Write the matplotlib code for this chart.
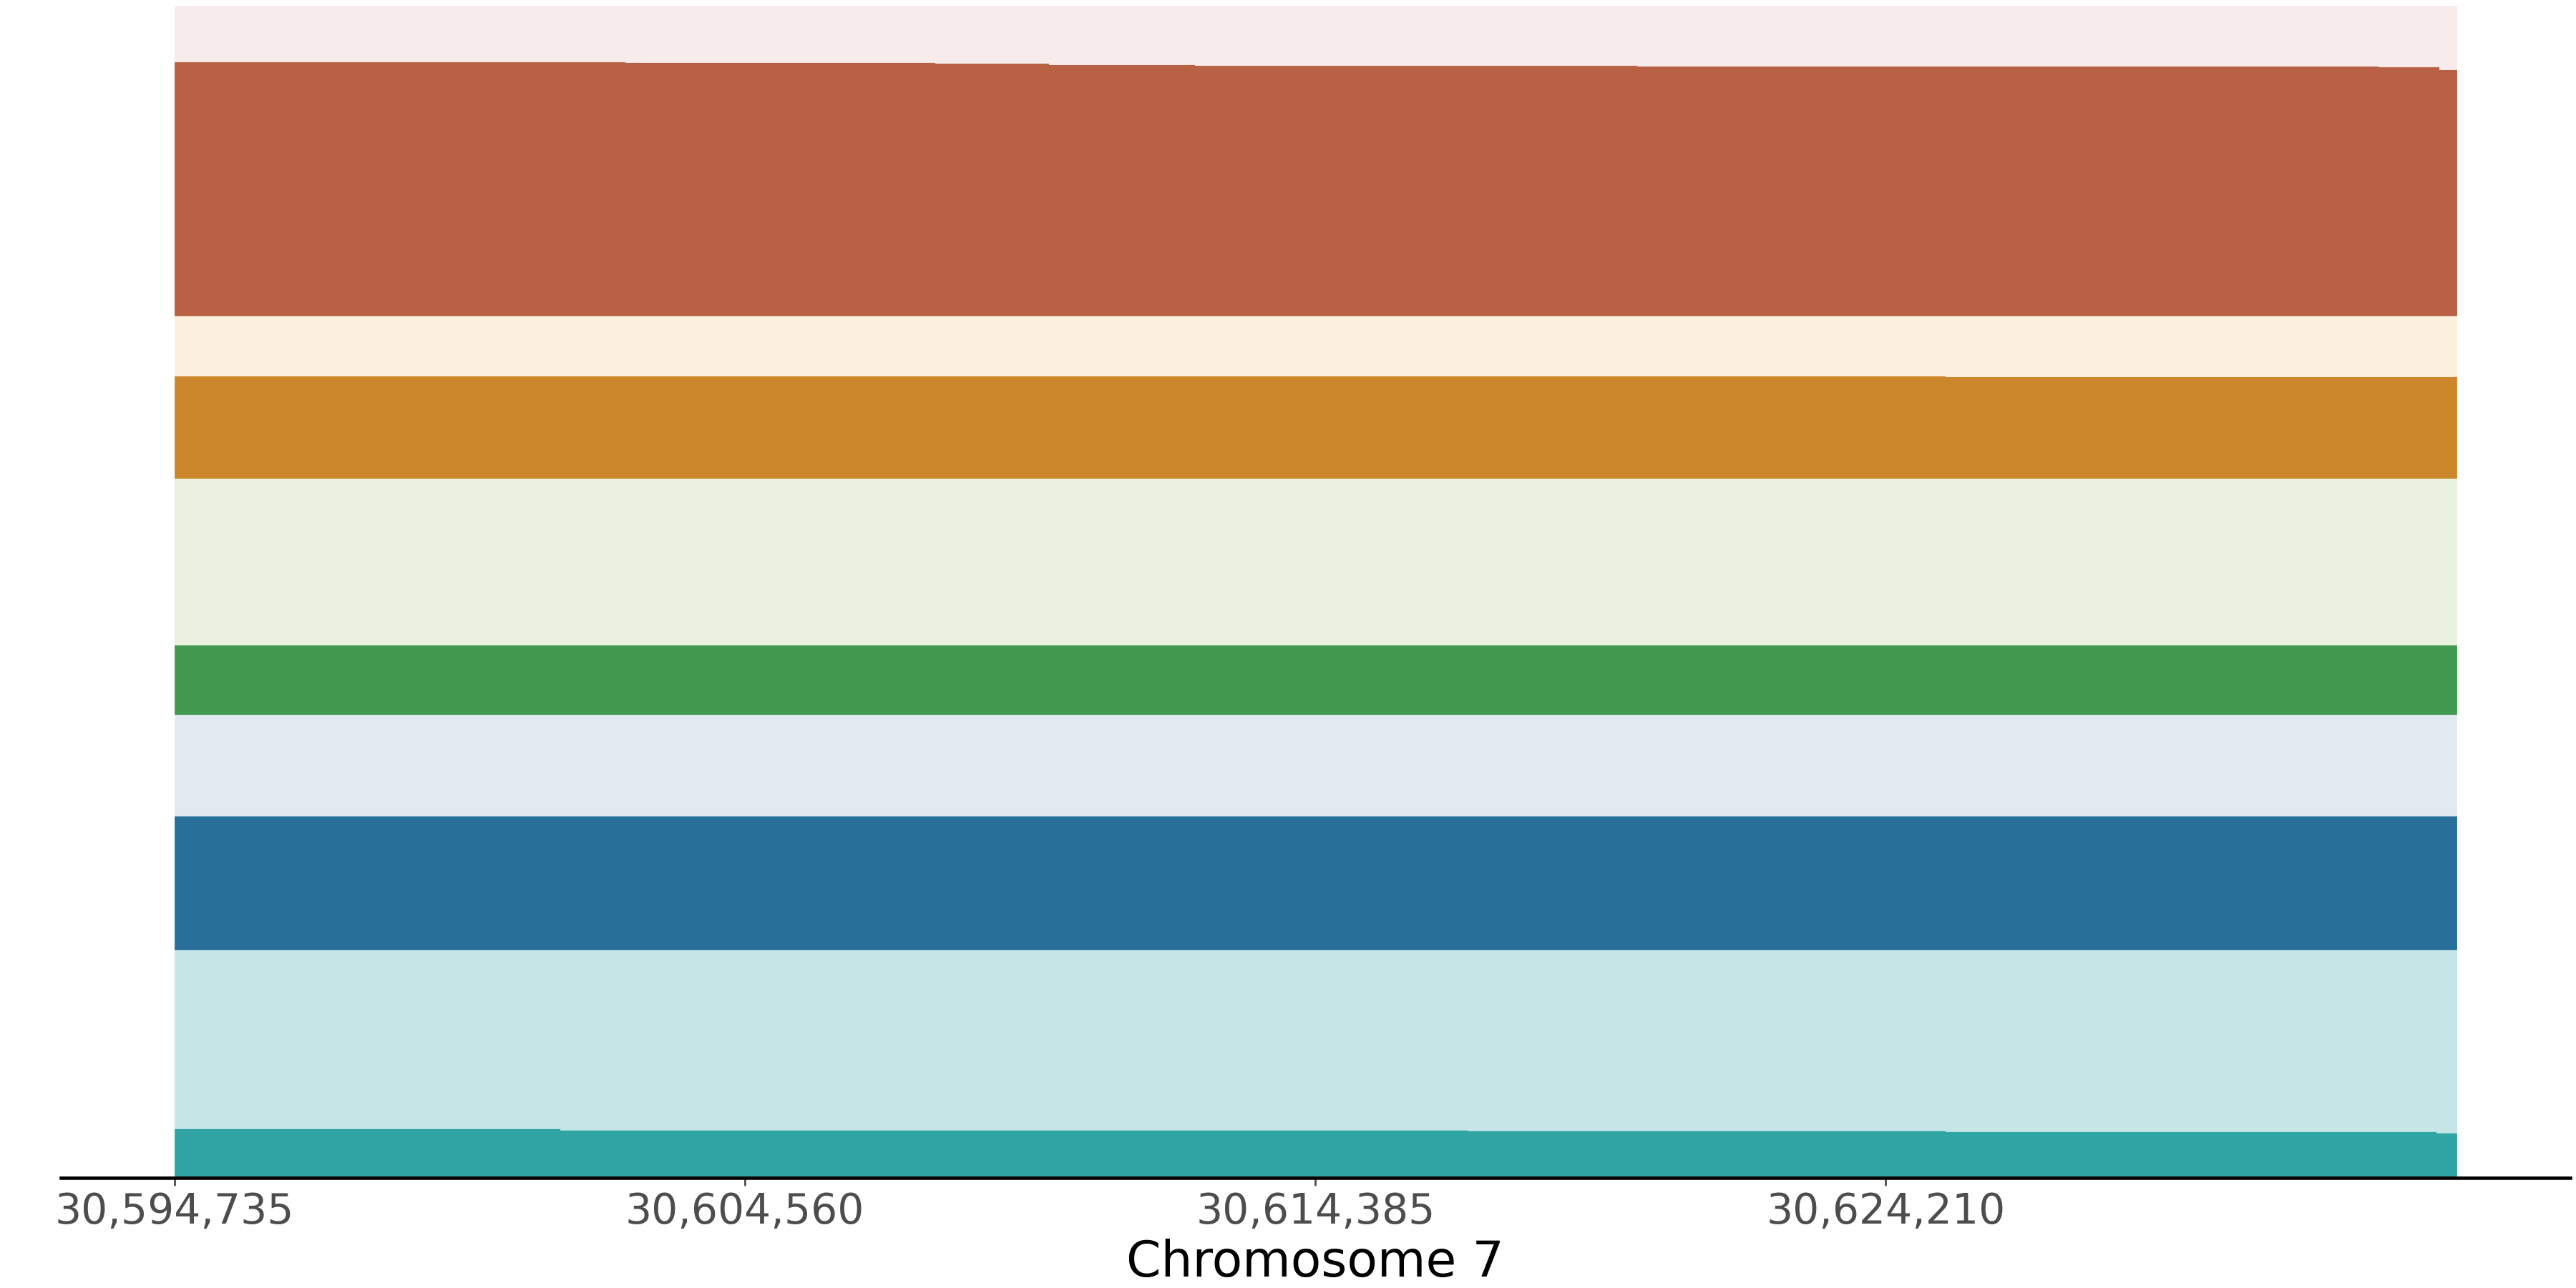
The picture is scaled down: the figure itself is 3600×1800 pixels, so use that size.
import matplotlib
matplotlib.use("Agg")
import matplotlib.pyplot as plt
import numpy as np

# Segment start positions (bp) on chromosome 7, plus final end position
positions = [30594735, 30601375, 30602497, 30602878, 30607831, 30609790,
             30612315, 30617022, 30619929, 30625240, 30632692, 30633691,
             30633739]
end_position = 30634035

# Proportions per layer (bottom to top), one value per segment
teal        = [.0421, .0409, .0409, .0406, .0406, .0406, .0406, .0401, .0401, .0397, .0397, .0385, .0385]
light_teal  = [.1523, .1535, .1535, .1538, .1538, .1538, .1538, .1543, .1543, .1547, .1547, .1559, .1559]
blue        = [.1144] * 13
light_blue  = [.0867] * 13
green       = [.0592] * 13
light_green = [.1422] * 13
orange      = [.0873] * 9 + [.0867] * 4
cream       = [.0513] * 9 + [.0519] * 4
brown       = [.2168, .2168, .2158, .2158, .2152, .2144, .2136, .2136, .2130, .2130, .2126, .2126, .2101]
pink        = [.0477, .0477, .0487, .0487, .0493, .0501, .0509, .0509, .0515, .0515, .0519, .0519, .0544]

layers = [teal, light_teal, blue, light_blue, green, light_green,
          orange, cream, brown, pink]
colors = ["#31a5a3", "#c5e5e6", "#28709a", "#e2e9f1", "#419a4f",
          "#eaf2df", "#cc872c", "#fbefdd", "#b86144", "#f7ebeb"]

tick_positions = [30594735, 30604560, 30614385, 30624210]
xlabel = "Chromosome 7"

x = np.array(positions + [end_position])
ys = [np.array(l + [l[-1]]) for l in layers]

fig = plt.figure(figsize=(36, 18), dpi=100)
ax = fig.add_axes([0.0235, 0.0856, 0.9743, 0.9102])

polys = ax.stackplot(x, *ys, colors=colors, step="post", linewidth=0.6)
for p, c in zip(polys, colors):
    p.set_edgecolor(c)

ax.set_ylim(0, 1)
ax.margins(x=0.05)
ax.set_yticks([])
for s in ["left", "right", "top"]:
    ax.spines[s].set_visible(False)
ax.spines["bottom"].set_color("black")
ax.spines["bottom"].set_linewidth(3.3)
ax.spines["bottom"].set_zorder(5)

ax.set_xticks(tick_positions)
ax.set_xticklabels([f"{t:,}" for t in tick_positions])
ax.tick_params(axis="x", colors="#4d4d4d", labelcolor="#4d4d4d",
               labelsize=42, length=8, width=2, pad=6)
ax.set_xlabel(xlabel, fontsize=50, color="black", labelpad=6)
ax.set_facecolor("white")

fig.savefig("out.png", dpi=100)
